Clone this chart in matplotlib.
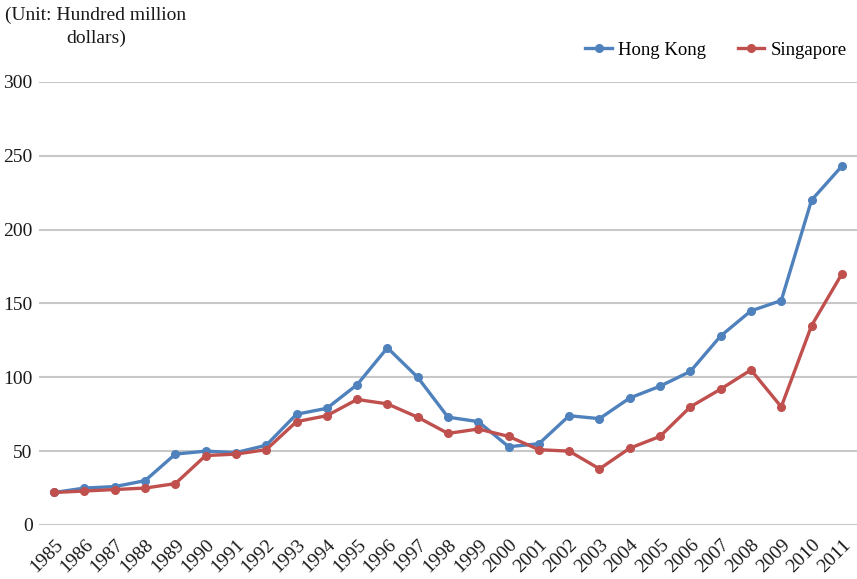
import matplotlib
matplotlib.use("Agg")
import matplotlib.pyplot as plt

years = [str(y) for y in range(1985, 2012)]
hong_kong = [22, 25, 26, 30, 48, 50, 49, 54, 75, 79, 95, 120, 100, 73, 70,
             53, 55, 74, 72, 86, 94, 104, 128, 145, 152, 220, 243]
singapore = [22, 23, 24, 25, 28, 47, 48, 51, 70, 74, 85, 82, 73, 62, 65,
             60, 51, 50, 38, 52, 60, 80, 92, 105, 80, 135, 170]
y_ticks = [0, 50, 100, 150, 200, 250, 300]

plt.rcParams['font.family'] = ['Liberation Serif', 'DejaVu Serif']
plt.rcParams['font.size'] = 14

fig = plt.figure(figsize=(8.57, 5.79), dpi=100)
ax = fig.add_axes([0.0455, 0.0933, 0.9545, 0.7651])

x = list(range(len(years)))
ax.plot(x, hong_kong, color='#4F81BD', lw=2.4, marker='o', ms=5.5,
        label='Hong Kong', zorder=3)
ax.plot(x, singapore, color='#C0504D', lw=2.4, marker='o', ms=5.5,
        label='Singapore', zorder=3)

ax.set_xlim(-0.5, len(years) - 0.5)
ax.set_ylim(0, 300)
ax.set_yticks(y_ticks)
ax.set_xticks(x)
ax.set_xticklabels(years, rotation=45, ha='right', va='top',
                   rotation_mode='anchor')
ax.tick_params(axis='both', length=0, labelsize=14, colors='#1a1a1a')
ax.tick_params(axis='y', pad=4.5)
ax.tick_params(axis='x', pad=8)

ax.grid(axis='y', color='#c8c8c8', lw=1.5)
ax.set_axisbelow(True)
for s in ax.spines.values():
    s.set_visible(False)

fig.text(0.112, 0.988, '(Unit: Hundred million\ndollars)', ha='center',
         va='top', fontsize=14, color='#1a1a1a', linespacing=1.4)

ax.legend(loc='center right', bbox_to_anchor=(847 / 857, 1 - 50 / 579),
          bbox_transform=fig.transFigure, ncol=2, frameon=False,
          handlelength=1.4, handletextpad=0.35, columnspacing=1.7,
          borderpad=0, borderaxespad=0, fontsize=13.5)

fig.savefig('out.png', dpi=100)
